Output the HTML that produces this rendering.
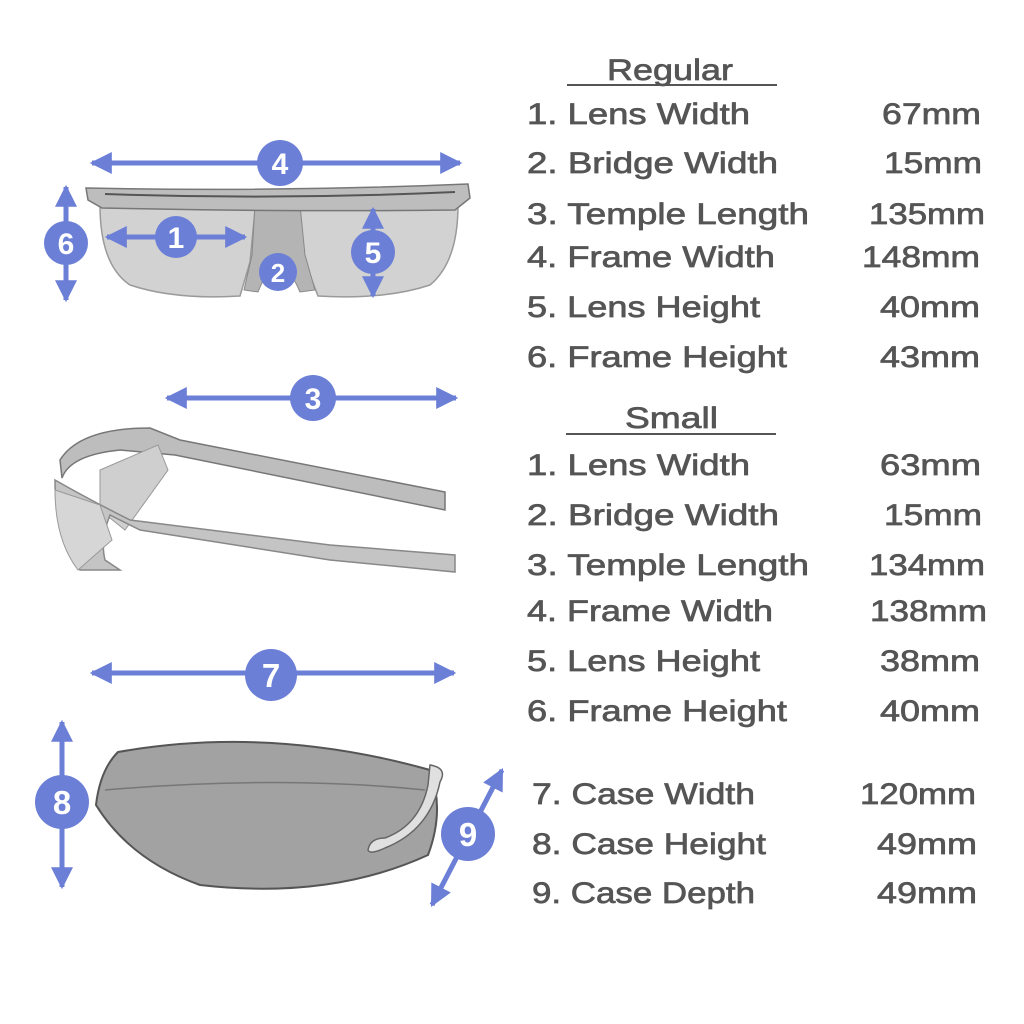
<!DOCTYPE html>
<html><head><meta charset="utf-8"><style>
html,body{margin:0;padding:0;background:#fff;}
svg{display:block}
text{font-family:"Liberation Sans",sans-serif;fill:#555;stroke:#555;stroke-width:0.7px;font-size:30px;}
.n{font-family:"Liberation Sans",sans-serif;fill:#fff;stroke:none;font-weight:bold;font-size:30px;text-anchor:middle;}
</style></head><body>
<svg width="1024" height="1024" viewBox="0 0 1024 1024" xmlns="http://www.w3.org/2000/svg">
<defs>
<marker id="a" viewBox="0 0 10 10" refX="9" refY="5" markerWidth="4.4" markerHeight="4.4" orient="auto-start-reverse" markerUnits="strokeWidth">
<path d="M0,0 L10,5 L0,10 z" fill="#6b7fd7"/></marker>
</defs>

<!-- front glasses -->
<path d="M100,205 L255,210 L250,262 L240,296 Q175,300 130,285 Q100,265 100,205 Z" fill="#d2d2d2" stroke="#9a9a9a" stroke-width="1.5"/>
<path d="M458,205 L300,210 L305,262 L318,296 Q385,300 430,285 Q458,262 458,205 Z" fill="#d2d2d2" stroke="#9a9a9a" stroke-width="1.5"/>
<path d="M255,205 L300,205 L305,255 L315,290 L300,292 Q278,240 258,292 L244,290 L252,255 Z" fill="#b4b4b4" stroke="#888" stroke-width="1"/>
<path d="M86,188 Q280,192 468,184 L470,198 L455,210 Q280,212 102,208 L88,200 Z" fill="#bdbdbd" stroke="#777" stroke-width="1.5"/>
<path d="M105,194 Q280,200 455,192" fill="none" stroke="#555" stroke-width="2"/>

<!-- side view -->
<path d="M60,460 Q80,428 150,428 L180,440 L445,492 L445,510 L175,455 L120,450 Q70,455 62,478 Z" fill="#bdbdbd" stroke="#777" stroke-width="1.5"/>
<path d="M100,470 L158,445 L168,470 L125,530 L100,510 Z" fill="#cfcfcf" stroke="#999" stroke-width="1"/>
<path d="M55,480 Q90,500 130,520 L330,545 L455,555 L455,572 L330,560 L140,530 L110,515 Q100,540 105,560 L120,570 L80,570 Q55,540 55,480 Z" fill="#c4c4c4" stroke="#888" stroke-width="1.5"/>
<path d="M55,490 L100,505 L112,540 L78,570 Q55,540 55,490 Z" fill="#d6d6d6" stroke="#999" stroke-width="1"/>

<!-- case -->
<path d="M118,752 Q270,725 430,770 Q445,810 428,855 Q330,900 200,885 Q130,860 96,805 Q100,770 118,752 Z" fill="#a2a2a2" stroke="#555" stroke-width="2"/>
<path d="M105,790 Q280,775 425,790" fill="none" stroke="#777" stroke-width="1.5"/>
<path d="M430,765 Q448,768 440,782 Q430,830 385,848 Q370,855 368,850 Q370,838 385,838 Q420,825 428,785 Z" fill="#e0e0e0" stroke="#666" stroke-width="1.5"/>

<!-- arrows -->
<g stroke="#6b7fd7" stroke-width="5" fill="none">
<line x1="92" y1="163" x2="460" y2="163" marker-start="url(#a)" marker-end="url(#a)"/>
<line x1="107" y1="237" x2="245" y2="237" marker-start="url(#a)" marker-end="url(#a)"/>
<line x1="66" y1="187" x2="66" y2="300" marker-start="url(#a)" marker-end="url(#a)"/>
<line x1="373" y1="209" x2="373" y2="296" marker-start="url(#a)" marker-end="url(#a)"/>
<line x1="167" y1="398" x2="456" y2="398" marker-start="url(#a)" marker-end="url(#a)"/>
<line x1="92" y1="673" x2="454" y2="673" marker-start="url(#a)" marker-end="url(#a)"/>
<line x1="62" y1="722" x2="62" y2="887" marker-start="url(#a)" marker-end="url(#a)"/>
<line x1="432" y1="905" x2="502" y2="770" marker-start="url(#a)" marker-end="url(#a)"/>
</g>
<g fill="#6b7fd7">
<circle cx="280" cy="163" r="23"/>
<circle cx="176" cy="237" r="21"/>
<circle cx="66" cy="243" r="22"/>
<circle cx="373" cy="252" r="22"/>
<circle cx="278" cy="272" r="19"/>
<circle cx="313" cy="398" r="23"/>
<circle cx="271" cy="675" r="26"/>
<circle cx="62" cy="802" r="27"/>
<circle cx="468" cy="834" r="27"/>
</g>
<text class="n" x="280" y="174">4</text>
<text class="n" x="176" y="248">1</text>
<text class="n" x="66" y="254">6</text>
<text class="n" x="373" y="263">5</text>
<text class="n" x="278" y="282" style="font-size:26px">2</text>
<text class="n" x="313" y="409">3</text>
<text class="n" x="271" y="687" style="font-size:33px">7</text>
<text class="n" x="62" y="814" style="font-size:33px">8</text>
<text class="n" x="468" y="846" style="font-size:33px">9</text>

<text x="607" y="80" textLength="126" lengthAdjust="spacingAndGlyphs">Regular</text>
<text x="527" y="124" textLength="223" lengthAdjust="spacingAndGlyphs">1. Lens Width</text><text x="882" y="124" textLength="99" lengthAdjust="spacingAndGlyphs">67mm</text>
<text x="527" y="173" textLength="251" lengthAdjust="spacingAndGlyphs">2. Bridge Width</text><text x="884" y="173" textLength="98" lengthAdjust="spacingAndGlyphs">15mm</text>
<text x="527" y="224" textLength="282" lengthAdjust="spacingAndGlyphs">3. Temple Length</text><text x="869" y="224" textLength="116" lengthAdjust="spacingAndGlyphs">135mm</text>
<text x="527" y="267" textLength="248" lengthAdjust="spacingAndGlyphs">4. Frame Width</text><text x="862" y="267" textLength="118" lengthAdjust="spacingAndGlyphs">148mm</text>
<text x="527" y="317" textLength="233" lengthAdjust="spacingAndGlyphs">5. Lens Height</text><text x="880" y="317" textLength="100" lengthAdjust="spacingAndGlyphs">40mm</text>
<text x="527" y="367" textLength="260" lengthAdjust="spacingAndGlyphs">6. Frame Height</text><text x="880" y="367" textLength="100" lengthAdjust="spacingAndGlyphs">43mm</text>

<text x="625" y="428" textLength="93" lengthAdjust="spacingAndGlyphs">Small</text>
<text x="527" y="475" textLength="223" lengthAdjust="spacingAndGlyphs">1. Lens Width</text><text x="880" y="475" textLength="101" lengthAdjust="spacingAndGlyphs">63mm</text>
<text x="527" y="525" textLength="252" lengthAdjust="spacingAndGlyphs">2. Bridge Width</text><text x="884" y="525" textLength="98" lengthAdjust="spacingAndGlyphs">15mm</text>
<text x="527" y="575" textLength="282" lengthAdjust="spacingAndGlyphs">3. Temple Length</text><text x="869" y="575" textLength="116" lengthAdjust="spacingAndGlyphs">134mm</text>
<text x="527" y="621" textLength="246" lengthAdjust="spacingAndGlyphs">4. Frame Width</text><text x="870" y="621" textLength="117" lengthAdjust="spacingAndGlyphs">138mm</text>
<text x="527" y="671" textLength="233" lengthAdjust="spacingAndGlyphs">5. Lens Height</text><text x="880" y="671" textLength="100" lengthAdjust="spacingAndGlyphs">38mm</text>
<text x="527" y="721" textLength="260" lengthAdjust="spacingAndGlyphs">6. Frame Height</text><text x="880" y="721" textLength="100" lengthAdjust="spacingAndGlyphs">40mm</text>

<text x="532" y="804" textLength="223" lengthAdjust="spacingAndGlyphs">7. Case Width</text><text x="860" y="804" textLength="116" lengthAdjust="spacingAndGlyphs">120mm</text>
<text x="532" y="854" textLength="234" lengthAdjust="spacingAndGlyphs">8. Case Height</text><text x="877" y="854" textLength="100" lengthAdjust="spacingAndGlyphs">49mm</text>
<text x="532" y="903" textLength="223" lengthAdjust="spacingAndGlyphs">9. Case Depth</text><text x="877" y="903" textLength="100" lengthAdjust="spacingAndGlyphs">49mm</text>

<line x1="567" y1="85" x2="777" y2="85" stroke="#555" stroke-width="2"/>
<line x1="566" y1="434" x2="776" y2="434" stroke="#555" stroke-width="2"/>
</svg>
</body></html>
